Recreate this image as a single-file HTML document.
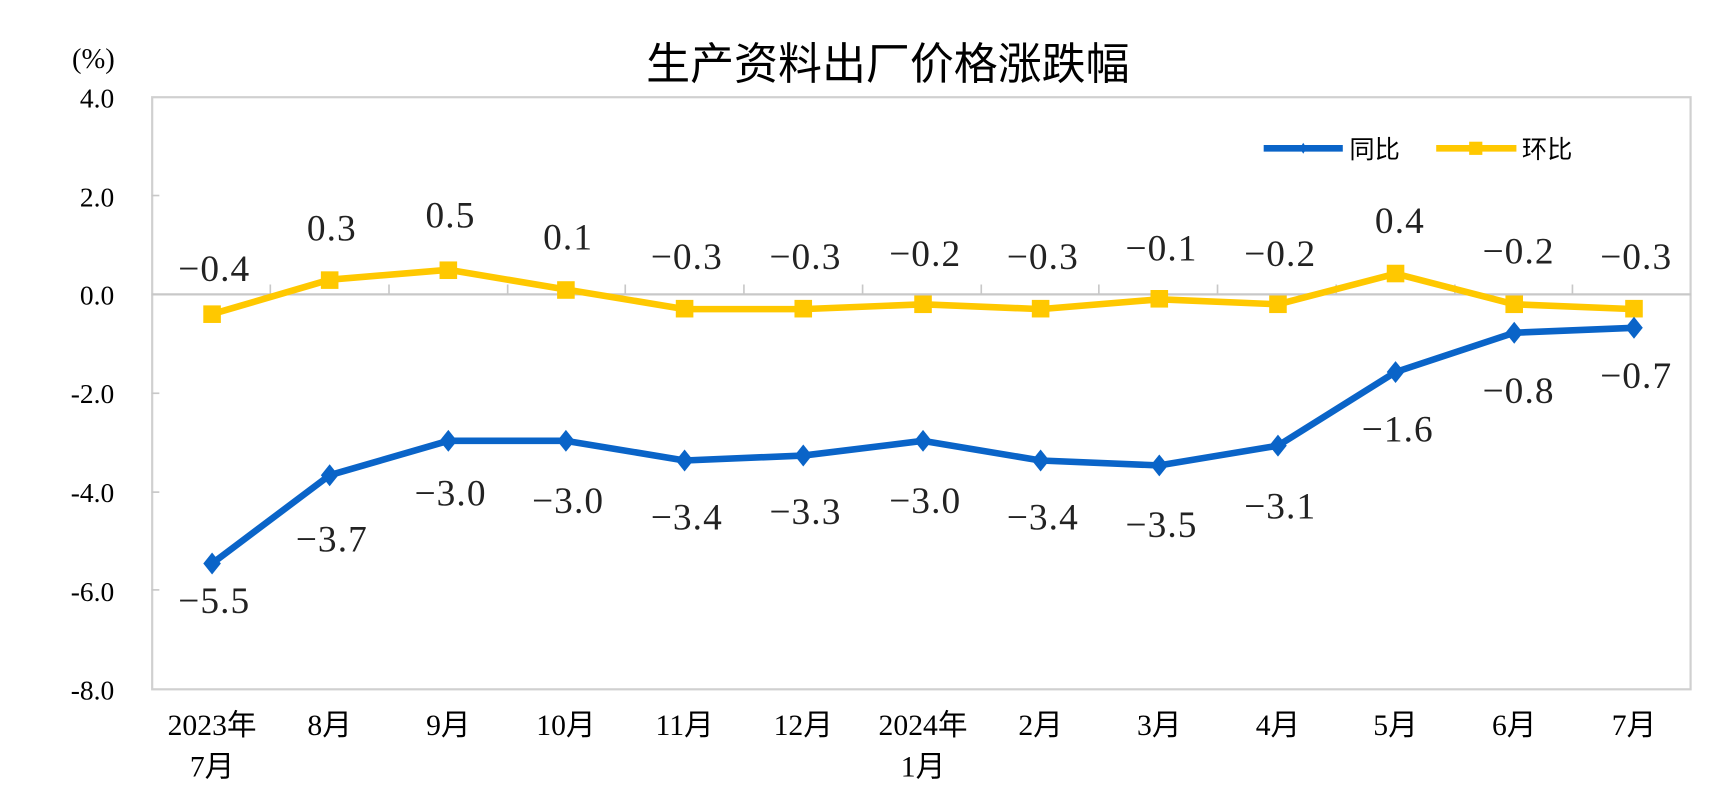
<!DOCTYPE html><html><head><meta charset="utf-8"><style>html,body{margin:0;padding:0;background:#fff}svg{display:block}</style></head><body>
<svg width="1723" height="803" viewBox="0 0 1568 731" preserveAspectRatio="none" xmlns="http://www.w3.org/2000/svg">
<rect width="1568" height="731" fill="#fff"/>
<text x="808" y="72" text-anchor="middle" font-family="'Noto Sans CJK SC',sans-serif" font-size="40" fill="#000">生产资料出厂价格涨跌幅</text>
<text x="85" y="62" text-anchor="middle" font-family="'Liberation Serif',serif" font-size="26" fill="#000">(%)</text>
<rect x="138.5" y="88.5" width="1400" height="539" fill="none" stroke="#d0d0d0" stroke-width="2"/>
<line x1="138" y1="268" x2="1539" y2="268" stroke="#c8c8c8" stroke-width="2"/>
<g stroke="#c8c8c8" stroke-width="1.5">
<line x1="138" y1="178" x2="145" y2="178"/><line x1="138" y1="358" x2="145" y2="358"/><line x1="138" y1="448" x2="145" y2="448"/><line x1="138" y1="537" x2="145" y2="537"/>
<line x1="246" y1="268" x2="246" y2="259"/><line x1="354" y1="268" x2="354" y2="259"/><line x1="462" y1="268" x2="462" y2="259"/><line x1="569" y1="268" x2="569" y2="259"/><line x1="677" y1="268" x2="677" y2="259"/><line x1="785" y1="268" x2="785" y2="259"/><line x1="893" y1="268" x2="893" y2="259"/><line x1="1000" y1="268" x2="1000" y2="259"/><line x1="1108" y1="268" x2="1108" y2="259"/><line x1="1216" y1="268" x2="1216" y2="259"/><line x1="1324" y1="268" x2="1324" y2="259"/><line x1="1431" y1="268" x2="1431" y2="259"/>
</g>
<g font-family="'Liberation Serif',serif" font-size="25" text-anchor="end" fill="#000">
<text x="104" y="98">4.0</text><text x="104" y="188">2.0</text><text x="104" y="277">0.0</text><text x="104" y="367">-2.0</text><text x="104" y="457">-4.0</text><text x="104" y="547">-6.0</text><text x="104" y="637">-8.0</text>
</g>
<g font-family="'Liberation Serif','Noto Sans CJK SC',serif" font-size="27" text-anchor="middle" fill="#000">
<text x="193" y="669">2023年</text><text x="193" y="707">7月</text><text x="300" y="669">8月</text><text x="408" y="669">9月</text><text x="515" y="669">10月</text><text x="623" y="669">11月</text><text x="731" y="669">12月</text><text x="840" y="669">2024年</text><text x="840" y="707">1月</text><text x="947" y="669">2月</text><text x="1055" y="669">3月</text><text x="1163" y="669">4月</text><text x="1270" y="669">5月</text><text x="1378" y="669">6月</text><text x="1487" y="669">7月</text>
</g>
<polyline fill="none" stroke="#FFC800" stroke-width="6" stroke-linejoin="round" points="193,285.9 300,254.6 408,245.6 515,263.5 623,281.4 731,281.4 840,277 947,281.4 1055,272.5 1163,277 1270,249.1 1378,277 1487,281.4"/>
<g fill="#FFC800">
<rect x="185" y="278" width="16" height="16"/><rect x="292" y="247" width="16" height="16"/><rect x="400" y="238" width="16" height="16"/><rect x="507" y="256" width="16" height="16"/><rect x="615" y="273" width="16" height="16"/><rect x="723" y="273" width="16" height="16"/><rect x="832" y="269" width="16" height="16"/><rect x="939" y="273" width="16" height="16"/><rect x="1047" y="264" width="16" height="16"/><rect x="1155" y="269" width="16" height="16"/><rect x="1262" y="241" width="16" height="16"/><rect x="1370" y="269" width="16" height="16"/><rect x="1479" y="273" width="16" height="16"/>
</g>
<polyline fill="none" stroke="#0A64C8" stroke-width="6" stroke-linejoin="round" points="193,513 300,432.6 408,401.3 515,401.3 623,419.2 731,414.7 840,401.3 947,419.2 1055,423.7 1163,405.7 1270,338.7 1378,302.9 1487,298.4"/>
<g fill="#0A64C8">
<path d="M193,503l8,10l-8,10l-8,-10z"/><path d="M300,422.6l8,10l-8,10l-8,-10z"/><path d="M408,391.3l8,10l-8,10l-8,-10z"/><path d="M515,391.3l8,10l-8,10l-8,-10z"/><path d="M623,409.2l8,10l-8,10l-8,-10z"/><path d="M731,404.7l8,10l-8,10l-8,-10z"/><path d="M840,391.3l8,10l-8,10l-8,-10z"/><path d="M947,409.2l8,10l-8,10l-8,-10z"/><path d="M1055,413.7l8,10l-8,10l-8,-10z"/><path d="M1163,395.7l8,10l-8,10l-8,-10z"/><path d="M1270,328.7l8,10l-8,10l-8,-10z"/><path d="M1378,292.9l8,10l-8,10l-8,-10z"/><path d="M1487,288.4l8,10l-8,10l-8,-10z"/>
</g>
<g font-family="'Liberation Serif',serif" font-size="34" text-anchor="middle" fill="#222" letter-spacing="1">
<text x="195" y="256">−0.4</text><text x="302" y="219">0.3</text><text x="410" y="207">0.5</text><text x="517" y="227">0.1</text><text x="625" y="245">−0.3</text><text x="733" y="245">−0.3</text><text x="842" y="242">−0.2</text><text x="949" y="245">−0.3</text><text x="1057" y="237">−0.1</text><text x="1165" y="242">−0.2</text><text x="1274" y="212">0.4</text><text x="1382" y="240">−0.2</text><text x="1489" y="245">−0.3</text>
<text x="195" y="558">−5.5</text><text x="302" y="502">−3.7</text><text x="410" y="460">−3.0</text><text x="517" y="467">−3.0</text><text x="625" y="482">−3.4</text><text x="733" y="477">−3.3</text><text x="842" y="467">−3.0</text><text x="949" y="482">−3.4</text><text x="1057" y="489">−3.5</text><text x="1165" y="472">−3.1</text><text x="1272" y="402">−1.6</text><text x="1382" y="367">−0.8</text><text x="1489" y="353">−0.7</text>
</g>
<line x1="1150" y1="135" x2="1222" y2="135" stroke="#0A64C8" stroke-width="6"/>
<path d="M1186,130l3,5l-3,5l-3,-5z" fill="#0A64C8"/>
<text x="1228" y="144" font-family="'Noto Sans CJK SC',sans-serif" font-size="23" fill="#000">同比</text>
<line x1="1307" y1="135" x2="1380" y2="135" stroke="#FFC800" stroke-width="6"/>
<rect x="1337" y="129" width="12" height="12" fill="#FFC800"/>
<text x="1385" y="144" font-family="'Noto Sans CJK SC',sans-serif" font-size="23" fill="#000">环比</text>
</svg>
</body></html>
